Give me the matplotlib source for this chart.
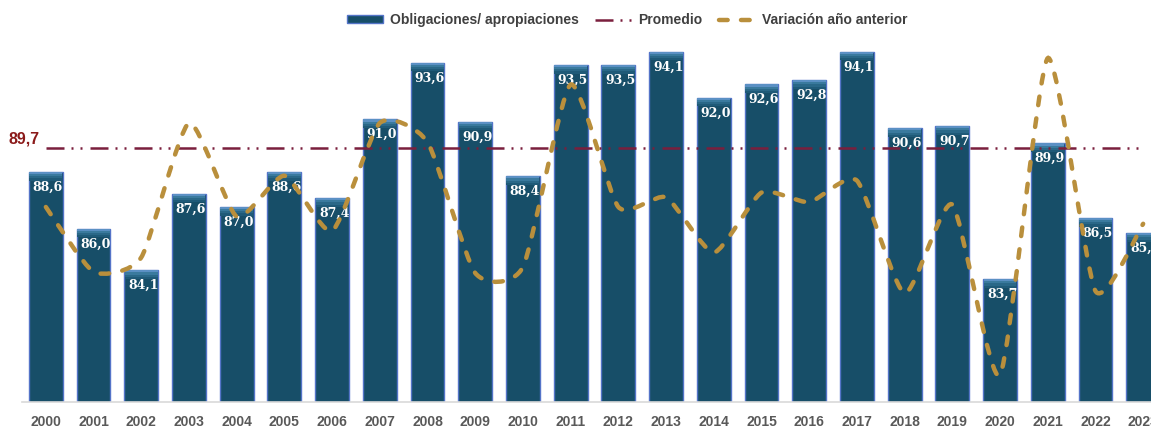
import matplotlib
matplotlib.use('Agg')
import matplotlib.pyplot as plt
from matplotlib.path import Path
from matplotlib.patches import PathPatch, Patch
from matplotlib.lines import Line2D
import numpy as np

years = [str(y) for y in range(2000, 2024)]
obligaciones = [88.6, 86.0, 84.1, 87.6, 87.0, 88.6, 87.4, 91.0, 93.6, 90.9, 88.4, 93.5,
                93.5, 94.1, 92.0, 92.6, 92.8, 94.1, 90.6, 90.7, 83.7, 89.9, 86.5, 85.8]
variacion = [0.0, -2.7, -2.1, 3.5, -0.4, 1.3, -1.0, 3.5, 2.7, -2.75, -2.5, 5.1,
             0.0, 0.4, -1.9, 0.6, 0.2, 1.1, -3.6, 0.1, -7.0, 6.2, -3.5, -0.7]
promedio = 89.7

bar_color = '#174e68'
edge_color = '#5474c8'
avg_color = '#7a1f3d'
var_color = '#b98f3c'


def smooth_path(xs, ys, k=10.0):
    # bezier path, a bit like the excel "smoothed line"
    pts = np.column_stack([xs, ys]).astype(float)
    n = len(pts)
    verts = [pts[0]]
    codes = [Path.MOVETO]
    for i in range(n - 1):
        p0 = pts[i - 1] if i > 0 else pts[i]
        p1 = pts[i]
        p2 = pts[i + 1]
        p3 = pts[i + 2] if i + 2 < n else pts[i + 1]
        c1 = p1 + (p2 - p0) / k
        c2 = p2 - (p3 - p1) / k
        verts += [c1, c2, p2]
        codes += [Path.CURVE4] * 3
    return Path(verts, codes)


fig = plt.figure(figsize=(11.51, 4.30), dpi=100)
ax = fig.add_axes([22 / 1151, 28 / 430, 1145 / 1151, 370 / 430])
x = np.arange(len(years))
tops = np.array(obligaciones)

ax.bar(x, obligaciones, width=0.71, color=bar_color,
       edgecolor=edge_color, linewidth=1.0, zorder=2)
# lighter bevel at the top of each bar
bevel = [(0.40, '#1f5a78'), (0.30, '#2a6888'), (0.20, '#3a7a9e'), (0.10, '#5b90c4')]
for h, c in bevel:
    ax.bar(x, [h] * len(x), width=0.69, bottom=tops - h,
           color=c, edgecolor='none', zorder=3)

for xi, v in zip(x, obligaciones):
    ax.annotate(f'{v:.1f}'.replace('.', ','), (xi, v), xytext=(1.5, -11),
                textcoords='offset points', ha='center', va='center',
                color='white', fontsize=9, fontweight='bold',
                family='DejaVu Serif', zorder=6)

avg_style = (0, (7.2, 2.8, 0.8, 2.8, 0.8, 3.2))
ax.plot(x, [promedio] * len(x), color=avg_color, lw=1.8,
        linestyle=avg_style, zorder=4)
ax.text(-0.14, promedio + 0.42, f'{promedio:.1f}'.replace('.', ','),
        color='#8b1a1a', fontsize=11.5, fontweight='bold',
        family='Liberation Sans', ha='right', va='center', clip_on=False)

ax.set_xlim(-0.5, len(years) - 0.5)
ax.set_ylim(78.07, 95.0)
ax.set_xticks(x)
ax.set_xticklabels(years, fontsize=10, fontweight='bold', color='#595959',
                   family='Liberation Sans')
ax.tick_params(axis='x', length=0, pad=9)
ax.set_yticks([])
for s in ['top', 'right', 'left']:
    ax.spines[s].set_visible(False)
ax.spines['bottom'].set_color('#d9d9d9')
ax.spines['bottom'].set_linewidth(1.2)

ax2 = ax.twinx()
ax2.set_ylim(-8.125, 7.29)
ax2.set_axis_off()
var_style = (0, (1.95, 3.0))
patch = PathPatch(smooth_path(x, variacion), fill=False, edgecolor=var_color,
                  lw=3.2, linestyle=var_style, capstyle='round', zorder=5)
ax2.add_patch(patch)

handles = [
    Patch(facecolor=bar_color, edgecolor=edge_color, linewidth=1.0),
    Line2D([], [], color=avg_color, lw=1.8, linestyle=avg_style),
    Line2D([], [], color=var_color, lw=3.2, linestyle=var_style,
           dash_capstyle='round'),
]
labels = ['Obligaciones/ apropiaciones', 'Promedio', 'Variación año anterior']
leg = fig.legend(handles, labels, loc='center', bbox_to_anchor=(0.545, 0.953), ncol=3,
                 frameon=False, handlelength=2.6, handleheight=0.5,
                 columnspacing=1.2, handletextpad=0.5,
                 prop={'family': 'Liberation Sans', 'weight': 'bold', 'size': 10})
for t in leg.get_texts():
    t.set_color('#404040')

fig.savefig('out.png', dpi=100)
